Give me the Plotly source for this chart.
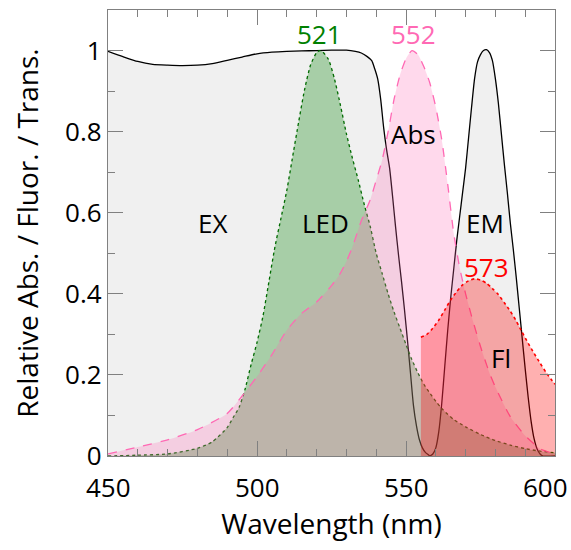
import plotly.graph_objects as go

# ---------------- data ----------------
ex_x = [450, 455, 460, 465, 470, 475, 480, 485, 490, 495, 500, 505, 510, 515, 520, 525, 530,
        533, 535, 537, 538.5, 539.5, 540.5, 541.5, 542.5, 543.5, 544.5, 545.5, 546.5, 547.5,
        548.5, 549.5, 550.5, 551.5, 552.5, 553.5, 554.5, 555.5, 556.5, 557.5, 558]
ex_y = [0.998, 0.985, 0.973, 0.966, 0.964, 0.963, 0.964, 0.968, 0.976, 0.984, 0.992, 0.996, 0.998,
        0.999, 1.0, 1.001, 1.001, 0.998, 0.994, 0.985, 0.975, 0.955, 0.93, 0.88, 0.81, 0.755,
        0.71, 0.64, 0.565, 0.495, 0.43, 0.36, 0.285, 0.205, 0.125, 0.075, 0.04, 0.02, 0.009, 0.003, 0.0]

em_x = [558, 559, 560, 561, 562, 563, 564, 565, 566, 567, 568, 569, 570, 571, 572, 573, 574, 575,
        576, 577, 578, 579, 580, 581, 582, 583, 584, 585, 586, 587, 588, 589, 590, 591, 592, 593,
        594, 595, 596, 600]
em_y = [0.0, 0.005, 0.02, 0.06, 0.13, 0.22, 0.31, 0.39, 0.46, 0.53, 0.59, 0.65, 0.71, 0.785, 0.86,
        0.93, 0.972, 0.99, 1.0, 1.002, 0.995, 0.975, 0.93, 0.87, 0.795, 0.72, 0.65, 0.575, 0.51,
        0.44, 0.365, 0.29, 0.215, 0.145, 0.085, 0.042, 0.017, 0.005, 0.0, 0.0]

led_x = [450, 460, 470, 480, 485, 490, 492, 494, 496, 498, 500, 502, 504, 506, 508, 510, 512, 514,
         516, 518, 520, 521, 522, 524, 526, 528, 530, 532, 534, 536, 538, 540, 542, 544, 546, 548,
         550, 552, 554, 556, 558, 560, 562, 566, 570, 575, 580, 585, 590, 595, 600]
led_y = [0.0, 0.002, 0.005, 0.019, 0.035, 0.07, 0.095, 0.12, 0.165, 0.225, 0.28, 0.345, 0.43,
         0.515, 0.585, 0.655, 0.74, 0.825, 0.905, 0.965, 0.995, 1.0, 0.997, 0.978, 0.93, 0.865,
         0.795, 0.735, 0.68, 0.62, 0.566, 0.5, 0.45, 0.4, 0.355, 0.315, 0.275, 0.237, 0.205, 0.177,
         0.155, 0.135, 0.117, 0.09, 0.072, 0.053, 0.038, 0.027, 0.018, 0.012, 0.008]

abs_x = [450, 460, 470, 480, 490, 495, 500, 505, 510, 515, 520, 525, 528, 530, 532, 535, 538, 540,
         542, 544, 546, 548, 550, 552, 554, 556, 558, 560, 562, 564, 566, 568, 570, 572, 575, 578,
         580, 585, 590, 595, 600]
abs_y = [0.005, 0.022, 0.04, 0.065, 0.105, 0.148, 0.196, 0.25, 0.31, 0.352, 0.38, 0.42, 0.451,
         0.48, 0.515, 0.58, 0.632, 0.68, 0.73, 0.8, 0.88, 0.94, 0.98, 1.0, 0.99, 0.96, 0.92, 0.86,
         0.78, 0.67, 0.55, 0.465, 0.4, 0.345, 0.27, 0.205, 0.17, 0.097, 0.05, 0.018, 0.005]

fl_x = [555, 557, 559, 561, 563, 565, 567, 569, 571, 573, 575, 577, 579, 581, 583, 585, 587, 589,
        591, 593, 595, 597, 599, 600]
fl_y = [0.293, 0.30, 0.315, 0.335, 0.36, 0.385, 0.405, 0.422, 0.432, 0.437, 0.434, 0.426, 0.413,
        0.398, 0.378, 0.357, 0.333, 0.305, 0.278, 0.253, 0.229, 0.206, 0.186, 0.177]

x_tick_vals = [450, 500, 550, 600]
x_tick_text = ["450", "500", "550", "600"]

labels = [
    # text, x, y, color
    ("521", 521, 1.04, "#008000"),
    ("552", 552.5, 1.04, "#ff69b4"),
    ("573", 577, 0.467, "#ff0000"),
    ("Abs", 552.6, 0.793, "black"),
    ("EX", 485, 0.575, "black"),
    ("LED", 522.9, 0.575, "black"),
    ("EM", 576.6, 0.575, "black"),
    ("Fl", 582, 0.241, "black"),
]

FONT = "Open Sans"

fig = go.Figure()

def add(xs, ys, line_color, dash, fillcolor, width=1.3):
    fig.add_trace(go.Scatter(
        x=xs, y=ys, mode="lines", fill="tozeroy", fillcolor=fillcolor,
        line=dict(color=line_color, width=width, dash=dash, shape="spline", smoothing=0.6),
        hoverinfo="skip", showlegend=False))

add(ex_x, ex_y, "black", "solid", "#f0f0f0")
add(em_x, em_y, "black", "solid", "#f0f0f0")
add(led_x, led_y, "#006a00", "dot", "rgba(0,128,0,0.3)")
add(abs_x, abs_y, "#ff69b4", "dash", "rgba(255,105,180,0.25)")
add(fl_x, fl_y, "#ff0000", "dot", "rgba(255,0,0,0.31)", width=1.6)

for t, x, y, c in labels:
    fig.add_annotation(x=x, y=y, text=t, showarrow=False,
                       font=dict(family=FONT, size=26, color=c))

shifts = {600: -10}
for v, t in zip(x_tick_vals, x_tick_text):
    fig.add_annotation(x=v, y=0, yref="paper", text=t, showarrow=False, yanchor="top",
                       yshift=-11, xshift=shifts.get(v, 0),
                       font=dict(family=FONT, size=26, color="black"))

axis_common = dict(
    showline=True, linecolor="#808080", linewidth=1.3, mirror="allticks",
    ticks="inside", ticklen=15, tickwidth=1.3, tickcolor="#808080",
    showgrid=False, zeroline=False,
)

fig.update_xaxes(
    range=[450, 600], tickvals=x_tick_vals, showticklabels=False,
    minor=dict(ticks="inside", ticklen=7, tickwidth=1.3, tickcolor="#808080", dtick=10, tick0=450, showgrid=False),
    title=dict(text="Wavelength (nm)", font=dict(family=FONT, size=28, color="black"), standoff=58),
    **axis_common)
fig.update_yaxes(
    range=[0, 1.1], tick0=0, dtick=0.2,
    tickfont=dict(family=FONT, size=26, color="black"),
    minor=dict(ticks="inside", ticklen=7, tickwidth=1.3, tickcolor="#808080", dtick=0.1, tick0=0, showgrid=False),
    title=dict(text="Relative Abs. / Fluor. / Trans.", font=dict(family=FONT, size=28, color="black"), standoff=18),
    **axis_common)

fig.update_layout(
    width=571, height=550,
    margin=dict(l=108, r=16, t=10, b=94, autoexpand=False),
    plot_bgcolor="white", paper_bgcolor="white",
    font=dict(family=FONT),
)

fig.write_html("out.html")
